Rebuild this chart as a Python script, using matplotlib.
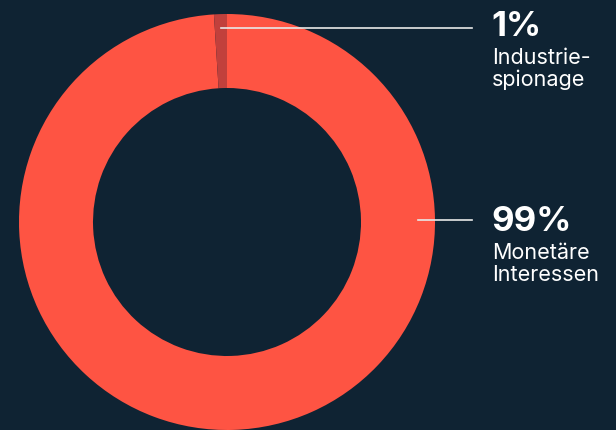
import matplotlib.pyplot as plt

# Data
labels = ["Monetäre\nInteressen", "Industrie-\nspionage"]
values = [99, 1]
pct_labels = ["99%", "1%"]
colors = ["#fe5443", "#c1403c"]

bg = "#0f2333"

fig = plt.figure(figsize=(6.16, 4.3), dpi=100, facecolor=bg)
ax = fig.add_axes([0, 0, 1, 1])
ax.set_facecolor(bg)

# Donut (pixel coordinates, y measured from the bottom)
cx, cy = 227, 430 - 222
ax.pie(values, colors=colors, startangle=90, counterclock=False,
       center=(cx, cy), radius=208, frame=True,
       wedgeprops=dict(width=74, linewidth=0))
ax.set_xlim(0, 616)
ax.set_ylim(0, 430)
ax.set_aspect("auto")
ax.axis("off")

# Leader lines and labels
line_y = [430 - 220, 430 - 28]
line_x0 = [418, 221]
text_top = [430 - 206, 430 - 11]
for i in range(2):
    ax.plot([line_x0[i], 472], [line_y[i], line_y[i]], color="#e8e8e8", lw=1.2)
    ax.text(491, text_top[i], pct_labels[i], color="white", fontsize=25,
            fontweight="bold", family="Inter", va="top", ha="left")
    ax.text(492, text_top[i] - 37, labels[i], color="white", fontsize=15.5,
            family="Inter", va="top", ha="left", linespacing=1.1)

fig.savefig("out.png", dpi=100, facecolor=bg)
